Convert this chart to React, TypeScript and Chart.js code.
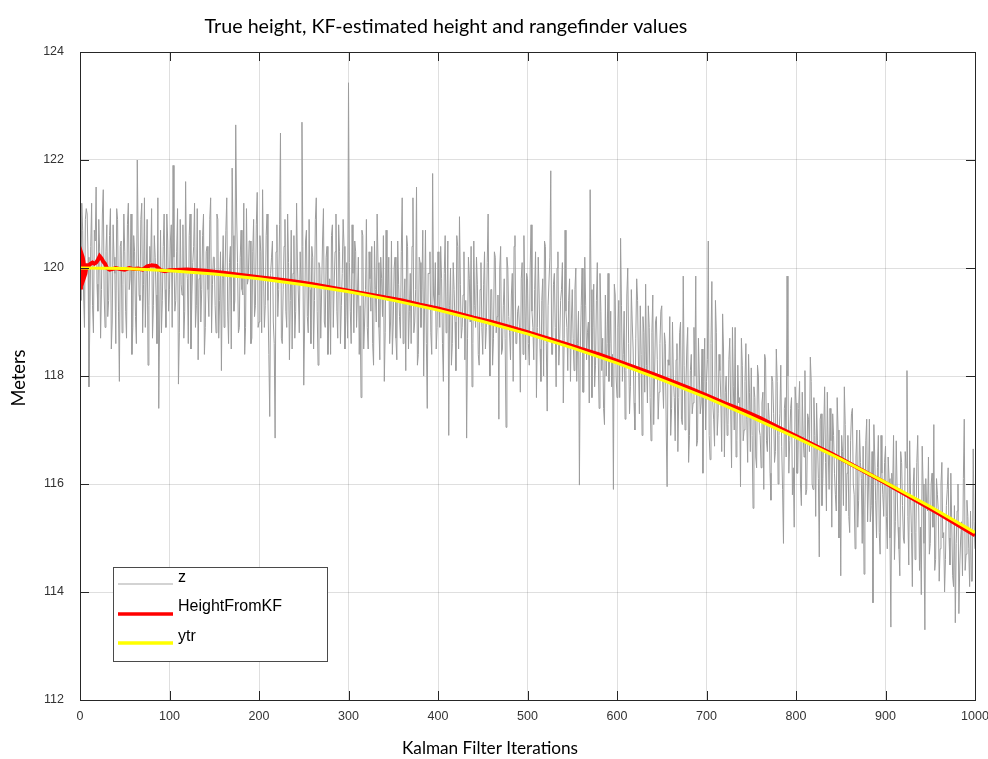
import React, { useEffect, useRef } from "react";
import { Chart, registerables } from "chart.js";

Chart.register(...registerables);

const TITLE = "True height, KF-estimated height and rangefinder values";
const X_TITLE = "Kalman Filter Iterations";
const Y_TITLE = "Meters";
const LEGEND_LABELS = ["z", "HeightFromKF", "ytr"];

const X_TICKS = [0, 100, 200, 300, 400, 500, 600, 700, 800, 900, 1000];
const Y_TICKS = [112, 114, 116, 118, 120, 122, 124];

// rangefinder measurements z at even iterations 0, 2, 4, ..., 1000
const zEvenValues = [
  120.6,121.2,119.5,120.9,121.0,117.8,120.4,119.3,120.7,121.5,119.2,120.3,119.6,121.45,118.9,120.8,119.4,121.1,119.0,120.2,118.6,120.9,117.9,120.5,119.7,
  120.3,118.7,121.2,119.8,118.4,120.6,119.1,122.0,119.5,120.9,118.8,121.3,119.9,118.2,120.4,121.1,119.3,120.2,118.6,117.4,120.7,119.4,121.0,118.9,120.5,
  119.6,120.8,121.9,119.2,120.3,117.85,120.9,119.5,118.7,121.6,119.8,120.6,118.5,120.1,121.2,119.3,118.3,120.7,119.6,121.0,118.9,120.4,119.1,121.3,119.7,
  120.2,118.8,120.9,119.4,118.1,120.6,119.9,121.3,118.6,120.4,121.85,119.2,122.65,120.1,118.9,120.7,119.5,118.4,121.1,119.8,120.5,118.7,120.9,119.3,121.4,
  119.0,120.3,121.45,118.9,120.6,119.4,117.25,120.2,119.0,116.85,120.8,119.6,122.5,118.6,120.4,119.2,121.0,118.3,120.7,119.9,118.7,121.2,119.5,120.3,122.7,
  117.83,120.5,119.1,120.9,118.6,120.2,119.4,121.3,118.2,120.0,119.6,121.1,118.9,120.4,119.0,118.4,120.8,119.7,121.0,118.7,120.3,119.3,120.9,118.5,120.1,
  123.43,119.2,120.8,118.8,120.3,119.5,118.4,117.6,120.6,119.0,120.9,118.5,119.8,120.4,118.2,119.6,121.0,118.9,120.2,119.1,117.9,120.7,119.4,118.6,120.5,
  119.0,120.2,118.3,119.7,118.7,121.3,119.4,118.1,120.4,119.2,118.6,121.3,119.0,121.5,118.4,120.1,119.6,118.0,120.7,117.4,119.9,118.8,121.75,119.3,118.5,
  120.3,118.9,119.8,117.9,120.6,119.2,116.9,120.0,118.6,119.6,118.1,120.4,120.95,118.7,119.5,118.3,116.85,120.2,119.0,117.8,120.5,118.9,119.7,118.2,120.1,
  118.4,120.3,118.9,121.0,118.0,119.6,118.7,120.2,119.1,117.2,120.4,118.5,119.8,117.05,120.0,118.8,119.5,117.9,120.6,118.6,119.3,117.7,120.1,120.6,118.3,
  119.8,118.2,120.8,118.9,119.6,117.6,120.2,118.5,119.4,118.0,120.4,117.35,119.3,121.8,118.4,119.9,117.8,120.3,118.7,119.6,117.5,120.7,118.9,119.4,117.9,
  119.6,118.1,120.0,118.6,115.98,119.3,117.7,120.2,118.3,119.0,121.45,117.6,119.7,118.2,120.1,117.4,119.2,118.7,117.1,118.0,119.9,118.6,117.8,115.9,119.5,
  117.6,119.4,120.55,117.9,119.2,118.1,120.0,117.3,119.6,118.5,117.0,119.8,118.2,119.3,116.9,118.8,119.7,117.5,118.9,116.8,119.5,118.0,119.1,117.2,118.6,
  119.3,117.4,118.6,115.95,118.2,116.9,119.0,117.6,118.3,116.6,118.8,117.2,119.85,117.0,118.5,116.4,118.1,117.3,118.9,119.85,116.8,118.0,117.5,116.2,118.7,
  117.9,120.5,116.45,119.75,117.2,119.4,116.9,118.4,117.6,119.15,116.5,118.0,117.1,118.7,116.3,117.8,118.9,116.8,117.5,115.95,118.2,117.0,118.6,116.4,117.7,
  118.15,115.55,117.6,116.3,118.0,116.9,117.5,115.9,118.3,116.6,117.2,115.7,117.9,116.4,118.5,116.0,117.3,116.7,114.9,117.6,119.85,116.2,117.4,115.8,115.2,
  117.5,116.2,117.9,115.6,116.9,118.1,115.9,117.2,118.35,116.0,117.6,115.4,116.8,114.65,117.3,116.1,117.8,115.5,116.6,117.4,115.2,116.9,115.8,117.6,115.0,
  114.3,116.6,117.8,115.5,116.9,115.1,117.3,116.0,114.8,117.0,115.7,116.4,114.9,114.33,116.8,115.3,117.2,115.6,113.8,116.5,115.0,116.9,114.7,116.2,115.4,
  116.7,114.8,116.1,113.35,115.9,114.6,116.8,115.2,114.3,116.4,115.0,116.6,118.1,114.5,115.8,114.1,116.3,115.1,116.9,114.4,113.95,116.0,113.3,115.6,116.5,
  114.9,116.2,117.1,114.6,115.8,114.2,116.0,115.0,114.0,115.6,116.3,114.5,115.3,114.1,113.43,115.5,113.6,115.0,114.3,117.2,114.7,115.4,114.1,114.2,116.65,
  114.8,
];

// rangefinder measurements z at odd iterations 1, 3, 5, ..., 999
const zOddValues = [
  119.4,120.7,118.9,121.1,120.2,119.0,121.2,118.8,120.5,119.7,120.9,118.7,121.0,119.5,120.3,119.1,120.6,118.5,120.8,119.9,121.1,119.2,120.4,118.8,121.0,
  119.2,120.8,119.6,121.0,118.9,120.3,118.6,120.5,119.4,121.2,119.7,118.9,120.9,119.3,120.1,118.7,120.6,119.5,121.3,119.0,118.8,120.4,119.6,121.0,119.2,
  120.5,118.9,120.2,119.4,121.1,118.8,119.7,120.8,119.2,120.0,118.6,121.0,119.5,120.4,118.9,121.1,119.8,119.0,120.6,118.4,120.3,119.6,120.9,118.8,120.2,
  119.3,121.0,118.7,120.3,119.8,118.9,120.7,119.2,120.1,118.5,120.6,119.4,121.0,118.8,120.2,119.6,121.2,118.9,119.7,120.5,118.6,120.3,119.1,120.8,118.9,
  120.6,118.8,120.0,119.3,121.0,118.4,119.9,120.5,118.6,120.3,119.1,120.8,118.7,119.6,120.9,118.9,120.1,119.4,118.5,120.6,119.2,120.0,118.8,119.7,120.4,
  119.0,120.7,118.8,119.6,120.4,118.5,120.9,119.2,120.1,118.7,120.5,119.0,120.2,118.4,119.8,120.6,118.9,120.3,119.2,120.8,118.6,119.9,120.4,119.1,118.7,
  120.1,118.6,119.9,120.5,118.9,120.2,119.3,120.7,118.5,119.6,118.9,120.3,119.2,118.6,120.5,119.0,120.1,118.3,119.8,120.6,118.8,119.5,120.2,119.0,118.4,
  120.0,118.7,120.5,119.1,120.3,118.6,119.8,120.6,118.5,119.9,120.4,118.8,119.6,118.2,120.2,118.9,120.7,119.3,118.6,119.9,120.3,118.4,119.5,120.1,118.9,
  119.5,120.4,118.6,119.9,118.8,120.5,119.3,118.2,120.1,119.0,120.6,118.5,119.7,118.9,120.3,119.4,118.7,119.8,120.4,118.6,119.3,120.2,118.4,119.6,118.9,
  119.7,118.5,120.1,119.0,119.6,118.2,120.3,118.8,119.5,120.0,118.4,119.3,118.7,120.2,119.1,118.3,119.9,120.4,118.6,119.2,118.9,119.8,118.4,119.5,119.9,
  118.6,120.0,119.2,118.3,120.3,118.9,119.5,117.9,119.8,120.5,118.6,119.3,120.2,118.4,119.7,118.9,120.0,118.2,119.4,120.1,118.7,119.2,118.1,119.8,119.0,
  118.7,119.6,117.9,119.2,118.5,120.0,117.7,119.3,118.8,117.5,119.6,118.9,117.8,119.4,118.4,119.9,118.1,117.4,119.5,118.6,117.9,119.2,118.4,119.7,118.0,
  118.9,117.6,119.3,118.4,117.2,119.5,118.6,117.8,119.0,117.5,118.7,119.4,117.3,118.4,119.1,117.7,118.2,119.3,117.6,118.8,117.1,119.0,118.3,117.7,119.2,
  117.9,118.8,117.0,118.3,119.1,117.4,118.0,116.8,118.6,117.6,119.0,117.1,118.2,117.8,118.9,116.9,118.4,117.5,118.0,116.7,118.7,117.3,118.5,117.9,117.0,
  118.3,116.9,118.6,117.5,116.7,118.8,117.3,118.1,116.6,118.5,117.7,116.9,118.3,117.4,118.9,117.0,116.5,118.2,117.6,118.7,116.8,117.9,117.2,118.4,116.6,
  116.9,117.8,116.5,118.2,117.0,116.3,117.7,118.4,116.8,117.5,116.2,118.0,117.3,116.6,117.9,116.9,118.2,115.9,117.4,116.5,118.0,116.8,117.6,116.3,117.8,
  116.2,117.4,116.0,117.7,116.5,115.8,117.3,116.6,117.9,115.9,116.9,117.5,116.1,117.2,115.6,117.0,116.4,117.7,115.9,116.8,117.3,116.2,115.5,117.0,116.5,
  116.9,115.6,117.1,116.2,115.4,116.8,117.4,115.8,116.5,115.2,117.0,116.1,116.7,115.5,117.2,116.0,115.3,116.6,117.1,115.7,116.3,115.1,116.9,115.8,116.4,
  115.4,116.5,115.0,116.2,116.9,115.3,115.9,114.8,116.6,115.6,114.9,116.3,115.4,116.8,115.1,116.0,114.6,116.4,115.7,115.2,116.7,114.9,116.1,115.5,114.7,
  116.0,115.2,114.4,116.1,115.5,114.8,116.4,115.1,114.6,115.9,115.0,116.2,114.3,115.6,114.9,116.0,114.5,115.3,116.1,114.4,115.7,114.8,115.5,114.2,115.3,
];

// Kalman filter estimate
const kfIter = [
  0,1,2,3,4,5,6,7,8,10,12,14,16,18,20,22,24,26,28,30,33,36,40,45,50,55,60,65,70,75,80,85,90,95,
  100,120,140,160,180,200,220,240,260,280,300,320,340,360,380,400,420,440,460,480,
  500,520,540,560,580,600,620,640,660,680,700,720,740,760,780,800,820,840,860,880,
  900,920,940,960,980,1000,
];
const kfValues = [
  120.0,119.6,120.25,120.2,120.1,119.85,119.9,120.0,120.05,120.05,120.08,120.1,120.08,120.1,120.15,120.22,120.18,120.12,120.08,120.0,119.97,119.98,120.0,119.98,119.97,120.0,119.98,119.99,119.97,120.03,120.05,120.04,119.96,119.94,
  119.96,119.97,119.95,119.91,119.87,119.83,119.79,119.75,119.70,119.64,119.58,119.52,119.46,119.40,119.32,119.25,119.17,119.08,119.00,118.91,
  118.81,118.71,118.61,118.50,118.40,118.28,118.16,118.04,117.91,117.78,117.64,117.50,117.37,117.22,117.05,116.89,116.72,116.56,116.38,116.20,
  116.02,115.83,115.64,115.45,115.25,115.05,
];

// true height
const ytrIter = [0,50,100,150,200,250,300,350,400,450,500,550,600,650,700,750,800,850,900,950,1000];
const ytrValues = [
  120.00,119.99,119.95,119.89,119.80,119.69,119.56,119.40,119.22,119.01,118.78,
  118.52,118.24,117.93,117.60,117.24,116.86,116.46,116.03,115.58,115.10,
];

const W = 988;
const H = 759;
const AXIS_COLOR = "#262626";
const GRID_COLOR = "rgba(38,38,38,0.15)";
const Z_COLOR = "#9c9c9c";
const KF_COLOR = "#ff0000";
const YTR_COLOR = "#ffff00";
const SANS = "'Liberation Sans', Arial, sans-serif";
const TITLE_FONT = "Lato, 'Open Sans', sans-serif";

function fitFont(ctx: CanvasRenderingContext2D, text: string, width: number, family: string, weight = "normal") {
  ctx.font = `${weight} 100px ${family}`;
  const w = ctx.measureText(text).width;
  const size = (100 * width) / w;
  return `${weight} ${size.toFixed(2)}px ${family}`;
}

const decorPlugin = {
  id: "matlabDecor",
  afterDraw(chart: any) {
    const ctx: CanvasRenderingContext2D = chart.ctx;
    const a = chart.chartArea;
    const xs = chart.scales.x;
    const ys = chart.scales.y;
    const TICK = 9;
    ctx.save();
    ctx.strokeStyle = AXIS_COLOR;
    ctx.lineWidth = 1;
    ctx.beginPath();
    for (const v of X_TICKS) {
      const px = Math.round(xs.getPixelForValue(v)) + 0.5;
      ctx.moveTo(px, a.bottom);
      ctx.lineTo(px, a.bottom - TICK);
      ctx.moveTo(px, a.top);
      ctx.lineTo(px, a.top + TICK);
    }
    for (const v of Y_TICKS) {
      const py = Math.round(ys.getPixelForValue(v)) + 0.5;
      ctx.moveTo(a.left, py);
      ctx.lineTo(a.left + TICK, py);
      ctx.moveTo(a.right, py);
      ctx.lineTo(a.right - TICK, py);
    }
    ctx.stroke();
    ctx.strokeRect(Math.round(a.left) + 0.5, Math.round(a.top) + 0.5, Math.round(a.right - a.left), Math.round(a.bottom - a.top));

    // titles
    ctx.fillStyle = "#000";
    ctx.textAlign = "center";
    ctx.textBaseline = "middle";
    ctx.font = fitFont(ctx, TITLE, 483, TITLE_FONT);
    ctx.fillText(TITLE, 446, 27);
    ctx.font = fitFont(ctx, X_TITLE, 176, TITLE_FONT);
    ctx.fillText(X_TITLE, 490, 748);
    ctx.save();
    ctx.translate(19, 378);
    ctx.rotate(-Math.PI / 2);
    ctx.font = fitFont(ctx, Y_TITLE, 57, TITLE_FONT);
    ctx.fillText(Y_TITLE, 0, 0);
    ctx.restore();

    // legend
    const lx = 113, ly = 567, lw = 214, lh = 94;
    ctx.fillStyle = "#fff";
    ctx.fillRect(lx, ly, lw, lh);
    ctx.strokeStyle = "#4a4a4a";
    ctx.lineWidth = 1;
    ctx.strokeRect(lx + 0.5, ly + 0.5, lw, lh);
    const colors = ["#c4c4c4", KF_COLOR, YTR_COLOR];
    const widths = [1.5, 3.5, 3.5];
    const lineY = [584, 614, 643];
    const textY = [578, 607, 637];
    ctx.font = `16px ${SANS}`;
    ctx.textAlign = "left";
    ctx.textBaseline = "middle";
    for (let i = 0; i < 3; i++) {
      ctx.strokeStyle = colors[i];
      ctx.lineWidth = widths[i];
      ctx.beginPath();
      ctx.moveTo(118, lineY[i]);
      ctx.lineTo(173, lineY[i]);
      ctx.stroke();
      ctx.fillStyle = "#000";
      ctx.fillText(LEGEND_LABELS[i], 178, textY[i]);
    }
    ctx.restore();
  },
};

export default function App() {
  const canvasRef = useRef<HTMLCanvasElement | null>(null);

  useEffect(() => {
    const canvas = canvasRef.current;
    if (!canvas) return;
    const zData: { x: number; y: number }[] = [];
    for (let i = 0; i < zEvenValues.length; i++) {
      zData.push({ x: 2 * i, y: zEvenValues[i] });
      if (i < zOddValues.length) zData.push({ x: 2 * i + 1, y: zOddValues[i] });
    }
    const kfData = kfIter.map((x, i) => ({ x, y: kfValues[i] }));
    const ytrData = ytrIter.map((x, i) => ({ x, y: ytrValues[i] }));

    const chart = new Chart(canvas, {
      type: "line",
      data: {
        datasets: [
          { label: LEGEND_LABELS[0], data: zData, borderColor: Z_COLOR, borderWidth: 1, pointRadius: 0, tension: 0, order: 3 },
          { label: LEGEND_LABELS[1], data: kfData, borderColor: KF_COLOR, borderWidth: 4, pointRadius: 0, tension: 0, order: 2 },
          { label: LEGEND_LABELS[2], data: ytrData, borderColor: YTR_COLOR, borderWidth: 3, pointRadius: 0, tension: 0, order: 1 },
        ],
      },
      options: {
        animation: false,
        responsive: false,
        devicePixelRatio: 1,
        layout: { padding: { top: 52, right: 13, bottom: 0, left: 0 } },
        plugins: { legend: { display: false }, tooltip: { enabled: false }, title: { display: false } },
        scales: {
          x: {
            type: "linear",
            min: 0,
            max: 1000,
            afterBuildTicks: (s: any) => { s.ticks = X_TICKS.map((v) => ({ value: v })); },
            afterFit: (s: any) => { s.height = 59; s.paddingLeft = 0; s.paddingRight = 0; },
            ticks: { color: "#333", font: { family: SANS, size: 12.5 }, padding: 9, maxRotation: 0, autoSkip: false, callback: (v: any) => String(v) },
            grid: { color: GRID_COLOR, drawTicks: false },
            border: { display: false },
          },
          y: {
            type: "linear",
            min: 112,
            max: 124,
            afterBuildTicks: (s: any) => { s.ticks = Y_TICKS.map((v) => ({ value: v })); },
            afterFit: (s: any) => { s.width = 80; },
            ticks: { color: "#333", font: { family: SANS, size: 12.5 }, padding: 16, autoSkip: false, callback: (v: any) => String(v) },
            grid: { color: GRID_COLOR, drawTicks: false },
            border: { display: false },
          },
        },
      },
      plugins: [decorPlugin],
    });
    return () => chart.destroy();
  }, []);

  return (
    <div style={{ position: "absolute", left: 0, top: 0, width: W, height: H, background: "#fff" }}>
      <canvas ref={canvasRef} width={W} height={H} style={{ display: "block", width: W, height: H }} />
    </div>
  );
}
